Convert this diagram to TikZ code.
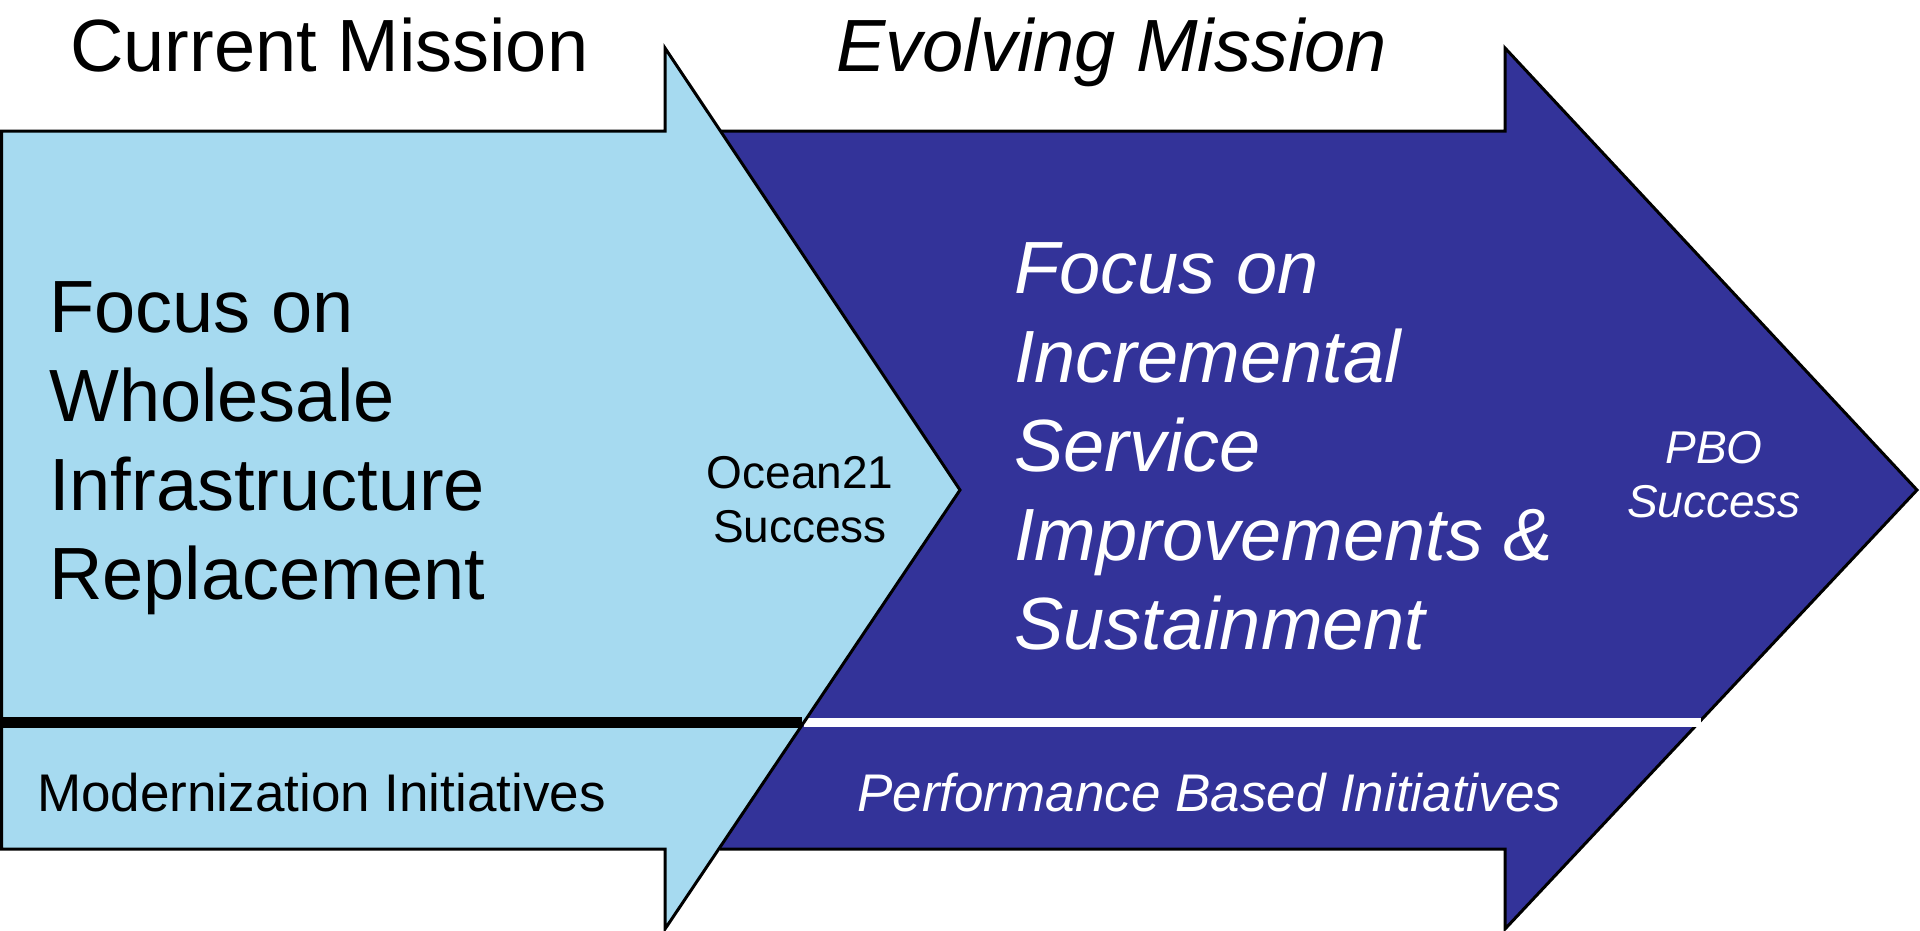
\documentclass[tikz,border=0pt]{standalone}
\usepackage{fontspec}
\setmainfont{Liberation Sans}
\definecolor{lightarrow}{RGB}{166,218,240}
\definecolor{darkarrow}{RGB}{51,51,153}
\tikzset{
  arrowshape/.style={draw=black, line width=3pt, line join=miter},
  bigtxt/.style={inner sep=0pt, font=\fontsize{74}{88}\selectfont},
  midtxt/.style={inner sep=0pt, font=\fontsize{53}{60}\selectfont},
  smalltxt/.style={inner sep=0pt, font=\fontsize{46}{54}\selectfont},
}
\begin{document}
\begin{tikzpicture}[x=1pt,y=-1pt]
\useasboundingbox (0,0) rectangle (1920,930);
% dark (evolving) arrow
\filldraw[arrowshape, fill=darkarrow] (720,131) -- (1505,131) -- (1505,48) -- (1917,490) -- (1505,929) -- (1505,849) -- (720,849);
\fill[darkarrow] (700,133) rectangle (760,847);
\draw[white, line width=9pt] (804,722) -- (1701,722);
% light (current) arrow
\filldraw[arrowshape, fill=lightarrow] (1.5,131) -- (665,131) -- (665,48) -- (960,490) -- (665,929) -- (665,849) -- (1.5,849) -- cycle;
\draw[black, line width=11pt] (0,722) -- (802,722);
% texts
\node[bigtxt, anchor=base west] (cm) at (70,71) {Current Mission};
\node[bigtxt, anchor=base west] (em) at (836,71) {\itshape Evolving Mission};
\node[bigtxt, anchor=base west] (l1) at (49,332) {Focus on};
\node[bigtxt, anchor=base west] (l2) at (49,421) {Wholesale};
\node[bigtxt, anchor=base west] (l3) at (49,510) {Infrastructure};
\node[bigtxt, anchor=base west] (l4) at (49,599) {Replacement};
\node[smalltxt, anchor=base] (o1) at (800,488) {Ocean21};
\node[smalltxt, anchor=base] (o2) at (800,542) {Success};
\node[bigtxt, anchor=base west, text=white] (r1) at (1014,293) {\itshape Focus on};
\node[bigtxt, anchor=base west, text=white] (r2) at (1014,382) {\itshape Incremental};
\node[bigtxt, anchor=base west, text=white] (r3) at (1014,471) {\itshape Service};
\node[bigtxt, anchor=base west, text=white] (r4) at (1014,560) {\itshape Improvements \&};
\node[bigtxt, anchor=base west, text=white] (r5) at (1014,649) {\itshape Sustainment};
\node[smalltxt, anchor=base, text=white] (p1) at (1714,463) {\itshape PBO};
\node[smalltxt, anchor=base, text=white] (p2) at (1714,517) {\itshape Success};
\node[midtxt, anchor=base west] (mi) at (37,811) {Modernization Initiatives};
\node[midtxt, anchor=base west, text=white] (pi) at (857,811) {\itshape Performance Based Initiatives};
\end{tikzpicture}
\end{document}
